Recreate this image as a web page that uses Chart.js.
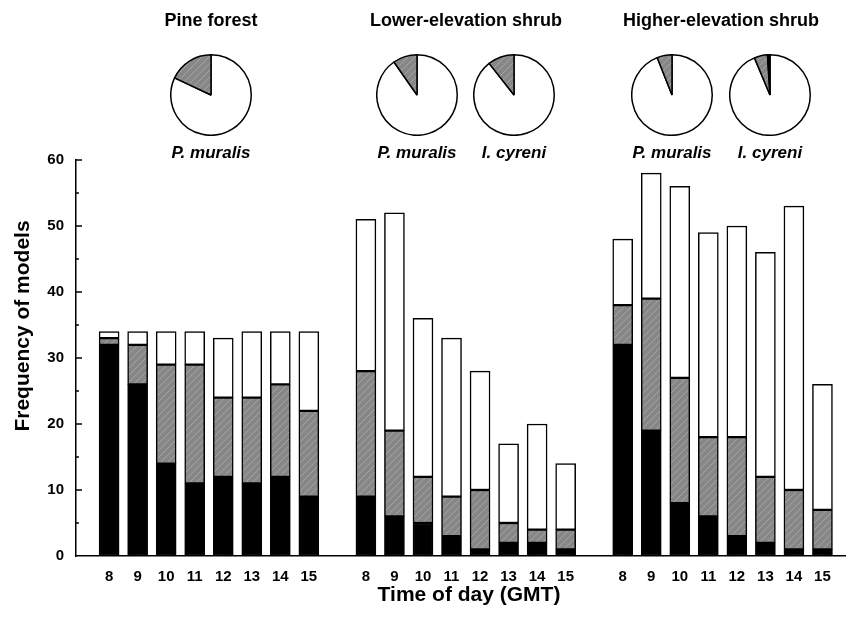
<!DOCTYPE html>
<html><head><meta charset="utf-8">
<script src="https://cdn.jsdelivr.net/npm/chart.js@4.4.0/dist/chart.umd.min.js"></script>
<style>
html,body{margin:0;padding:0;background:#fff;}
#wrap{position:relative;width:847px;height:617px;overflow:hidden;font-family:"Liberation Sans",Arial,Helvetica,sans-serif;}
#main{position:absolute;left:0;top:0;}
.pie{position:absolute;}
.t{position:absolute;font-weight:bold;white-space:nowrap;transform:translate(-50%,-50%);color:#000;line-height:1;}
.h{font-size:18px;}
.s{font-size:17px;font-style:italic;}
</style></head><body>
<div id="wrap">
<canvas id="main" width="847" height="617"></canvas>
</div>
<script>
// ---------------- DATA ----------------
const hours = ['8','9','10','11','12','13','14','15'];
const habitats = ['Pine forest','Lower-elevation shrub','Higher-elevation shrub'];
const yTicks = [0,10,20,30,40,50,60];
const xTitle = 'Time of day (GMT)';
const yTitle = 'Frequency of models';

// black segments
const blackPine   = [32,26,14,11,12,11,12,9];
const blackLower  = [9,6,5,3,1,2,2,1];
const blackHigher = [32,19,8,6,3,2,1,1];
// hatched grey segments
const greyPine    = [1,6,15,18,12,13,14,13];
const greyLower   = [19,13,7,6,9,3,2,3];
const greyHigher  = [6,20,19,12,15,10,9,6];
// open (white) segments
const whitePine   = [1,2,5,5,9,10,8,12];
const whiteLower  = [23,33,24,24,18,12,16,10];
const whiteHigher = [10,19,29,31,32,34,43,19];

// pies (percent, clockwise from top: white, grey, black)
const pieSpecies = ['P. muralis','P. muralis','I. cyreni','P. muralis','I. cyreni'];
const pieWhite = [82, 90.3, 89.4, 94, 93.7];
const pieGrey  = [18, 9.7, 10.6, 6, 5.3];
const pieBlack = [0, 0, 0, 0, 1];

// ---------------- LAYOUT ----------------
const pieCX = [211, 417, 514, 672, 770];
const pieCY = 95;
const pieSize = 82;
const headCX = [211, 466, 721];
const FONT = '"Liberation Sans", Arial, Helvetica, sans-serif';

function hatch(){
  const c = document.createElement('canvas');
  c.width = 7; c.height = 7;
  const g = c.getContext('2d');
  g.fillStyle = '#878787'; g.fillRect(0,0,7,7);
  g.strokeStyle = '#a4a4a4'; g.lineWidth = 1;
  g.beginPath(); g.moveTo(0,7); g.lineTo(7,0); g.stroke();
  g.beginPath(); g.moveTo(-1,1); g.lineTo(1,-1); g.stroke();
  g.beginPath(); g.moveTo(6,8); g.lineTo(8,6); g.stroke();
  return g.createPattern(c,'repeat');
}
const greyFill = hatch();

// positions on the x scale: groups of 8 separated by one empty slot
const positions = [];
const xLabels = [];
for (let g = 0; g < habitats.length; g++) {
  for (let i = 0; i < hours.length; i++) { positions.push(g*9 + i); xLabels.push(hours[i]); }
}
const toPts = arr => arr.map((v,k)=>({x: positions[k], y: v}));
const blackAll = [...blackPine, ...blackLower, ...blackHigher];
const greyAll  = [...greyPine, ...greyLower, ...greyHigher];
const whiteAll = [...whitePine, ...whiteLower, ...whiteHigher];

const decor = {
  id: 'decor',
  afterDraw(chart){
    const ctx = chart.ctx, y = chart.scales.y, a = chart.chartArea;
    ctx.save();
    ctx.strokeStyle = '#000'; ctx.lineWidth = 1.5;
    for (let v = 5; v <= 60; v += 5) {
      const py = y.getPixelForValue(v);
      const len = v % 10 === 0 ? 6 : 3;
      ctx.beginPath(); ctx.moveTo(a.left, py); ctx.lineTo(a.left + len, py); ctx.stroke();
    }
    ctx.fillStyle = '#000';
    ctx.font = 'bold 21px ' + FONT;
    ctx.textAlign = 'center'; ctx.textBaseline = 'middle';
    ctx.fillText(xTitle, 469, 595);
    ctx.translate(23, 326); ctx.rotate(-Math.PI/2);
    ctx.fillText(yTitle, 0, 0);
    ctx.restore();
  }
};

const common = {borderColor:'#000', borderWidth:1.5, borderSkipped:false, barThickness:20};
new Chart(document.getElementById('main'), {
  type: 'bar',
  data: {
    datasets: [
      Object.assign({label:'black', data: toPts(blackAll), backgroundColor:'#000'}, common),
      Object.assign({label:'hatched', data: toPts(greyAll), backgroundColor: greyFill}, common),
      Object.assign({label:'open', data: toPts(whiteAll), backgroundColor:'#fff'}, common)
    ]
  },
  options: {
    responsive: false, animation: false, devicePixelRatio: 1, events: [],
    layout: {padding: {left:0, right:2, top:160, bottom:0}},
    plugins: {legend:{display:false}, tooltip:{enabled:false}, title:{display:false}},
    scales: {
      x: {
        type: 'linear', stacked: true, offset: false,
        min: -1.16, max: 25.79,
        afterBuildTicks: s => { s.ticks = positions.map(v => ({value: v})); },
        afterFit: s => { s.height = 61; },
        grid: {display:false, drawTicks:false},
        border: {display:true, color:'#000', width:1.5},
        ticks: {autoSkip:false, maxRotation:0, padding:12, color:'#000',
          font:{family:FONT, size:15, weight:'bold'},
          callback: (v, i) => xLabels[i]}
      },
      y: {
        stacked: true, min: 0, max: 60,
        afterBuildTicks: s => { s.ticks = yTicks.map(v => ({value: v})); },
        afterFit: s => { s.width = 76; },
        grid: {display:false, drawTicks:false},
        border: {display:true, color:'#000', width:1.5},
        ticks: {padding:12, color:'#000', font:{family:FONT, size:15, weight:'bold'}}
      }
    }
  },
  plugins: [decor]
});

// pies
const wrap = document.getElementById('wrap');
pieCX.forEach((cx, k) => {
  const c = document.createElement('canvas');
  c.className = 'pie'; c.width = pieSize; c.height = pieSize;
  c.style.left = (cx - pieSize/2) + 'px'; c.style.top = (pieCY - pieSize/2) + 'px';
  wrap.appendChild(c);
  new Chart(c, {
    type: 'pie',
    data: {labels:['open','hatched','black'],
      datasets:[{data:[pieWhite[k], pieGrey[k], pieBlack[k]],
        backgroundColor:['#fff', greyFill, '#000'], borderColor:'#000', borderWidth:1.5}]},
    options: {responsive:false, animation:false, devicePixelRatio:1, events:[],
      layout:{padding:0}, plugins:{legend:{display:false}, tooltip:{enabled:false}}}
  });
  const lab = document.createElement('div');
  lab.className = 't s'; lab.textContent = pieSpecies[k];
  lab.style.left = cx + 'px'; lab.style.top = '152px';
  wrap.appendChild(lab);
});
habitats.forEach((h, g) => {
  const d = document.createElement('div');
  d.className = 't h'; d.textContent = h;
  d.style.left = headCX[g] + 'px'; d.style.top = '20px';
  wrap.appendChild(d);
});
</script>
</body></html>
